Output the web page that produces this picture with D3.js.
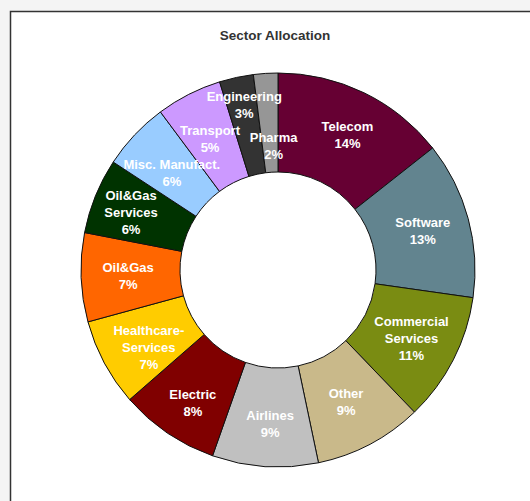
<!DOCTYPE html>
<html><head><meta charset="utf-8">
<script src="https://cdn.jsdelivr.net/npm/d3@7"></script>
<style>
html,body{margin:0;padding:0;background:#f4f4f4;}
svg{display:block;}
</style></head>
<body>
<script>
const categories = ["Telecom","Software","Commercial Services","Other","Airlines","Electric","Healthcare-Services","Oil&Gas","Oil&Gas Services","Misc. Manufact.","Transport","Engineering","Pharma"];
const labelLines = [["Telecom"],["Software"],["Commercial","Services"],["Other"],["Airlines"],["Electric"],["Healthcare-","Services"],["Oil&Gas"],["Oil&Gas","Services"],["Misc. Manufact."],["Transport"],["Engineering"],["Pharma"]];
const values = [14.4,12.9,10.6,8.9,8.7,8.2,7.2,7.3,6.2,5.6,5.4,2.8,2.0];
const colors = ["#660033","#62848f","#7a8c12","#c9b98a","#c0c0c0","#800000","#ffcc00","#ff6600","#003300","#99ccff","#cc99ff","#333333","#969696"];
const labelNudge = {"Telecom":[4,0],"Engineering":[-2,-18],"Pharma":[5,26],"Oil&Gas Services":[-8,-1],"Electric":[-1,9],"Healthcare-Services":[3,7],"Misc. Manufact.":[3,6],"Airlines":[2,4],"Transport":[0,3],"Other":[-2,-1]};

const W=530,H=501;
const svg=d3.select("body").append("svg").attr("width",W).attr("height",H);
svg.append("rect").attr("x",10.5).attr("y",11.5).attr("width",700).attr("height",700)
  .attr("fill","#ffffff").attr("stroke","#333333").attr("stroke-width",1.5);
svg.append("text").attr("x",275).attr("y",40).attr("text-anchor","middle")
  .attr("font-family","Liberation Sans, Arial, sans-serif").attr("font-weight","bold")
  .attr("font-size","13.5px").attr("fill","#333333").text("Sector Allocation");

const cx=278, cy=270, R=197, r0=98;
const data=categories.map((c,i)=>({name:c,value:values[i],lines:labelLines[i],color:colors[i]}));
const total=d3.sum(values);
const pie=d3.pie().value(d=>d.value).sort(null);
const arc=d3.arc().innerRadius(r0).outerRadius(R);
const labelArc=d3.arc().innerRadius(150).outerRadius(150);
const g=svg.append("g").attr("transform",`translate(${cx},${cy})`);
const arcs=pie(data);
g.selectAll("path").data(arcs).join("path").attr("d",arc)
  .attr("fill",d=>d.data.color).attr("stroke","#111").attr("stroke-width",1);

const pct=d3.format(".0f");
const lab=g.selectAll("text.lab").data(arcs).join("text").attr("class","lab")
  .attr("font-family","Liberation Sans, Arial, sans-serif").attr("font-weight","bold")
  .attr("font-size","13px").attr("fill","#ffffff").attr("text-anchor","middle")
  .attr("transform",d=>{const [x,y]=labelArc.centroid(d);const n=labelNudge[d.data.name]||[0,0];return `translate(${x+n[0]},${y+n[1]})`;});
lab.each(function(d){
  const lines=d.data.lines.concat([pct(d.data.value/total*100)+"%"]);
  const lh=17, start=-(lines.length-1)*lh/2;
  d3.select(this).selectAll("tspan").data(lines).join("tspan")
    .attr("x",0).attr("y",(t,i)=>start+i*lh).attr("dy","0.35em").text(t=>t);
});
</script>
</body></html>
